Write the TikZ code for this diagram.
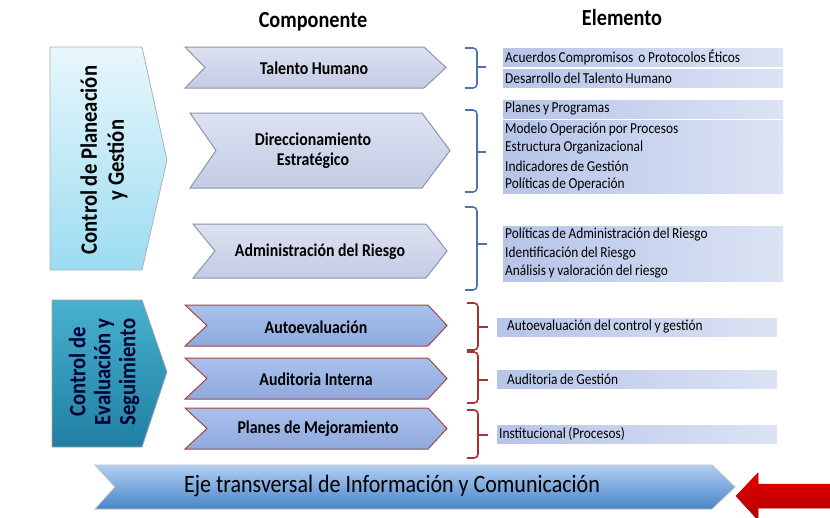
\documentclass[tikz,border=0pt]{standalone}
\usepackage{fontspec}
\setmainfont[FakeStretch=0.88]{Carlito}

\definecolor{upline}{HTML}{8A95AD}
\definecolor{uptop}{HTML}{DDE2F1}
\definecolor{upbot}{HTML}{C3CBE4}
\definecolor{lowline}{HTML}{A54545}
\definecolor{lowtop}{HTML}{A9C1EC}
\definecolor{lowbot}{HTML}{8EA9DD}
\definecolor{bluebrace}{HTML}{4F73B0}
\definecolor{redbrace}{HTML}{A83232}
\definecolor{barleft}{HTML}{B5C4E8}
\definecolor{barright}{HTML}{DCE3F4}
\definecolor{planetop}{HTML}{E8F7FC}
\definecolor{planebot}{HTML}{9CDCF1}
\definecolor{evaltop}{HTML}{48B1CF}
\definecolor{evalbot}{HTML}{1F7FA2}
\definecolor{ejetop}{HTML}{B0CFF3}
\definecolor{ejebot}{HTML}{4A84C8}

\newcommand\elemspacing{\spaceskip=0.17em plus 0.05em\relax}

\tikzset{
  upper/.style={draw=upline, line width=1pt, top color=uptop, bottom color=upbot},
  lower/.style={draw=lowline, line width=1pt, top color=lowtop, bottom color=lowbot},
  complabel/.style={font=\fontsize{18}{20}\selectfont\bfseries, align=center},
  elembar/.style={left color=barleft, right color=barright, anchor=west,
    text width=276pt, inner xsep=2pt, inner ysep=0pt, minimum height=18pt,
    font=\fontsize{15.2}{16}\selectfont, align=left, execute at begin node=\elemspacing},
  ubrace/.style={draw=bluebrace, line width=1.6pt, rounded corners=4pt},
  rbrace/.style={draw=redbrace, line width=1.6pt, rounded corners=4pt},
  heading/.style={font=\fontsize{23}{25}\selectfont\bfseries},
  sidelabel/.style={rotate=90, align=center, font=\fontsize{23.5}{27}\selectfont\bfseries}
}

\begin{document}
\begin{tikzpicture}[x=1pt,y=-1pt]
\useasboundingbox (0,0) rectangle (830,517);

%% headings
\node[heading] (comp) at (313,22) {Componente};
\node[heading] (elem) at (622,18) {Elemento};

%% left boxes
\draw[draw=black!30, line width=0.8pt, top color=planetop, bottom color=planebot]
  (50,47) -- (142,47) -- (167,160) -- (142,270) -- (50,270) -- cycle;       %% planeacion
\draw[draw=black!35, line width=0.8pt, top color=evaltop, bottom color=evalbot]
  (52,300) -- (142,300) -- (167,372) -- (142,447) -- (52,447) -- cycle;     %% evaluacion
\node[sidelabel] (planeacion) at (104,160) {Control de Planeación\\y Gestión};
\node[sidelabel, text=black!80!blue, font=\fontsize{23.5}{25}\selectfont\bfseries]
  (evaluacion) at (104,372) {Control de\\Evaluación y\\Seguimiento};

%% components
\draw[upper] (185,47) -- (424,47) -- (446,67.5) -- (424,88) -- (185,88) -- (205,67.5) -- cycle;       %% talento
\draw[upper] (190,113) -- (422,113) -- (450,150.5) -- (422,188) -- (190,188) -- (216,150.5) -- cycle; %% direccionamiento
\draw[upper] (193,224) -- (426,224) -- (447,251) -- (426,278) -- (193,278) -- (215,251) -- cycle;     %% riesgo
\draw[lower] (185,305) -- (428,305) -- (447,325.5) -- (428,346) -- (185,346) -- (207,325.5) -- cycle; %% autoevaluacion
\draw[lower] (185,358) -- (428,358) -- (447,378.5) -- (428,399) -- (185,399) -- (207,378.5) -- cycle; %% auditoria
\draw[lower] (185,408) -- (428,408) -- (447,428.5) -- (428,449) -- (185,449) -- (207,428.5) -- cycle; %% mejoramiento

\node[complabel] (talento) at (314,68) {Talento Humano};
\node[complabel] (direccion) at (313,151) {Direccionamiento\\Estratégico};
\node[complabel] (riesgo) at (320,252) {Administración del Riesgo};
\node[complabel] (autoeval) at (316,327) {Autoevaluación};
\node[complabel] (auditoria) at (316,379) {Auditoria Interna};
\node[complabel] (mejora) at (318,429) {Planes de Mejoramiento};

%% braces
\draw[ubrace] (465,48) -- (477,48) -- (477,88) -- (465,88);   \draw[ubrace] (477,67) -- (486,67);
\draw[ubrace] (465,110) -- (477,110) -- (477,192) -- (465,192); \draw[ubrace] (477,152) -- (486,152);
\draw[ubrace] (465,207) -- (477,207) -- (477,290) -- (465,290); \draw[ubrace] (477,244) -- (487,244);
\draw[rbrace] (467,303) -- (478,303) -- (478,350) -- (467,350); \draw[rbrace] (478,327) -- (488,327);
\draw[rbrace] (467,352) -- (478,352) -- (478,403) -- (467,403); \draw[rbrace] (478,380) -- (488,380);
\draw[rbrace] (467,410) -- (478,410) -- (478,458) -- (467,458); \draw[rbrace] (478,435) -- (488,435);

%% elements
\node[elembar] (e1) at (503,57) {Acuerdos Compromisos \ o Protocolos Éticos};
\node[elembar] (e2) at (503,78) {Desarrollo del Talento Humano};
\node[elembar] (e3) at (503,109) {Planes y Programas};
\node[elembar] (e4) at (503,129) {Modelo Operación por Procesos};
\node[elembar] (e5) at (503,147.5) {Estructura Organizacional};
\node[elembar] (e6) at (503,166) {Indicadores de Gestión};
\node[elembar] (e7) at (503,184.5) {Políticas de Operación};
\node[elembar] (e8) at (503,235) {Políticas de Administración del Riesgo};
\node[elembar] (e9) at (503,253.5) {Identificación del Riesgo};
\node[elembar] (e10) at (503,272) {Análisis y valoración del riesgo};
\node[elembar] (e11) at (497,327) {\hspace*{8pt}Autoevaluación del control y gestión};
\node[elembar] (e12) at (497,379) {\hspace*{8pt}Auditoria de Gestión};
\node[elembar] (e13) at (497,434) {Institucional (Procesos)};

%% eje transversal
\draw[draw=black!25, line width=0.8pt, top color=ejetop, bottom color=ejebot]
  (95,465) -- (712,465) -- (735,487) -- (712,509) -- (95,509) -- (115,487) -- cycle;
\node[font=\fontsize{25}{27}\selectfont] (eje) at (392,486) {Eje transversal de Información y Comunicación};

%% red arrow
\draw[draw=red!70!black, line width=0.5pt, top color=red!90!black, bottom color=red!70!black]
  (736,496) -- (758,473) -- (758,484) -- (832,484) -- (832,508) -- (758,508) -- (758,520) -- cycle;
\end{tikzpicture}
\end{document}
